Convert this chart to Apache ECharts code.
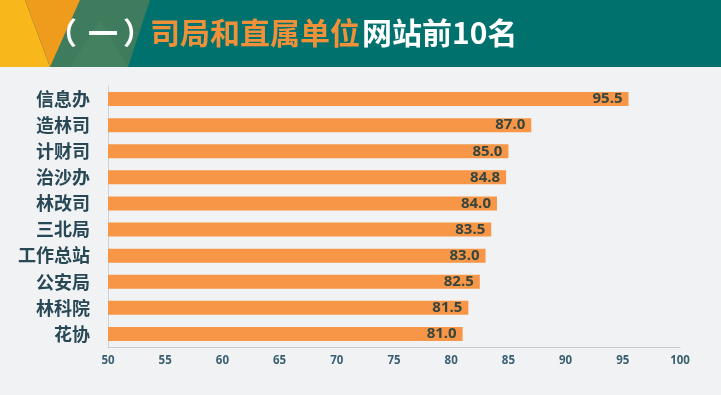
<!DOCTYPE html>
<html>
<head>
<meta charset="utf-8">
<script src="https://cdn.jsdelivr.net/npm/echarts@6/dist/echarts.min.js"></script>
<style>
html,body{margin:0;padding:0;background:#f1f2f4;}
#c{width:721px;height:395px;}
</style>
</head>
<body>
<div id="c"></div>
<script>
const categories = ['信息办','造林司','计财司','治沙办','林改司','三北局','工作总站','公安局','林科院','花协'];
const scores = [95.5, 87.0, 85.0, 84.8, 84.0, 83.5, 83.0, 82.5, 81.5, 81.0];
const titleLeadParts = ['（','一','）'];
const titleMid = '司局和直属单位';
const titleTail = '网站前10名';

const tf = {fontSize:30, fontWeight:'bold', fontFamily:'Noto Sans CJK SC'};
const chart = echarts.init(document.getElementById('c'));
chart.setOption({
  backgroundColor: '#f1f2f4',
  animation: false,
  graphic: [
    {type:'rect', shape:{x:0,y:0,width:721,height:67}, style:{fill:'#00716d'}},
    {type:'polygon', shape:{points:[[80,0],[150,0],[128,67],[50,67]]}, style:{fill:'#3f7c5e'}},
    {type:'polygon', shape:{points:[[100,20],[128,67],[70,67]]}, style:{fill:'#468563', opacity:0.6}},
    {type:'polygon', shape:{points:[[0,0],[25,0],[50,67],[0,67]]}, style:{fill:'#f8b81c'}},
    {type:'polygon', shape:{points:[[25,0],[80,0],[50,67]]}, style:{fill:'#ef9b1c'}},
    {type:'text', x:47, y:18, style:Object.assign({text:titleLeadParts[0], fill:'#ffffff'}, tf)},
    {type:'text', x:88, y:18, style:Object.assign({text:titleLeadParts[1], fill:'#ffffff'}, tf)},
    {type:'text', x:123, y:18, style:Object.assign({text:titleLeadParts[2], fill:'#ffffff'}, tf)},
    {type:'text', x:150, y:18, style:Object.assign({text:titleMid, fill:'#f0913a'}, tf)},
    {type:'text', x:362, y:18, style:Object.assign({text:titleTail, fill:'#ffffff'}, tf)}
  ],
  grid: {left:108, right:41, top:86, bottom:48},
  xAxis: {
    type:'value', min:50, max:100, interval:5,
    axisLine:{show:true, lineStyle:{color:'#c9c9d0', width:1}},
    axisTick:{show:false},
    splitLine:{show:false},
    axisLabel:{color:'#3b6070', fontSize:11.5, fontWeight:'bold', fontFamily:'Open Sans', margin:8}
  },
  yAxis: {
    type:'category', data:categories, inverse:true,
    axisLine:{show:true, lineStyle:{color:'#d0d0d6', width:1}},
    axisTick:{show:false},
    axisLabel:{color:'#284855', fontSize:18, fontWeight:'bold', fontFamily:'Noto Sans CJK SC', margin:18}
  },
  series: [{
    type:'bar', data:scores, barWidth:14,
    itemStyle:{color:'#f79646'},
    label:{show:true, position:'insideRight', distance:6,
      formatter: p => p.value.toFixed(1),
      color:'#36463f', fontSize:15, fontWeight:'bold', fontFamily:'Open Sans'}
  }]
});
</script>
</body>
</html>
